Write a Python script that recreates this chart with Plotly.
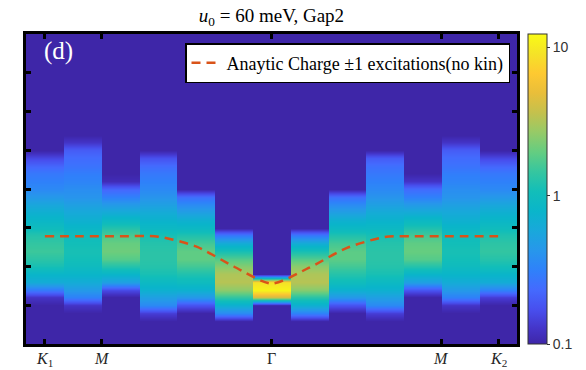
import numpy as np
import plotly.graph_objects as go

# Momentum samples along K1 - M - Gamma - M - K2 (column index)
k_index = list(range(13))
k_tick_pos = [0, 1.5, 6, 10.5, 12]
k_tick_text = ["<i>K</i><sub>1</sub>", "<i>M</i>", "Γ", "<i>M</i>", "<i>K</i><sub>2</sub>"]

# Energy grid of the spectral map (arb. units)
energy = [0.4, 0.6, 0.8, 1.0, 1.2, 1.4, 1.6, 1.8, 2.0, 2.2, 2.4, 2.6, 2.8, 3.0,
          3.2, 3.4, 3.6, 3.8, 4.0, 4.2, 4.4, 4.6, 4.8, 5.0, 5.2, 5.4, 5.6]

# log10 of the spectral weight for each momentum column (bottom -> top in energy)
col_00 = [-1, -1, -1, -1, -0.9, -0.55, -0.2, -0.1, 0.05, 0.12, 0.18, 0.15, 0.1, 0.0,
          -0.08, -0.15, -0.25, -0.35, -0.45, -0.5, -0.55, -0.65, -0.8, -1, -1, -1, -1]
col_01 = [-1, -1, -1, -0.9, -0.5, -0.35, -0.2, -0.1, -0.02, 0.03, 0.05, 0.03, 0.0, -0.08,
          -0.15, -0.22, -0.3, -0.38, -0.42, -0.48, -0.52, -0.58, -0.62, -0.7, -0.9, -1, -1]
col_02 = [-1, -1, -1, -1, -1, -0.8, -0.3, -0.1, 0.1, 0.25, 0.32, 0.3, 0.22, 0.1,
          -0.05, -0.2, -0.35, -0.5, -0.65, -0.95, -1, -1, -1, -1, -1, -1, -1]
col_03 = [-1, -1, -0.85, -0.45, -0.3, -0.15, -0.05, 0.05, 0.1, 0.12, 0.12, 0.1, 0.05, -0.05,
          -0.12, -0.2, -0.3, -0.38, -0.45, -0.5, -0.55, -0.62, -0.75, -1, -1, -1, -1]
col_04 = [-1, -1, -1, -0.75, -0.35, -0.15, -0.02, 0.08, 0.2, 0.28, 0.28, 0.2, 0.08, -0.05,
          -0.15, -0.3, -0.45, -0.6, -1, -1, -1, -1, -1, -1, -1, -1, -1]
col_05 = [-1, -1, -0.45, -0.15, 0.15, 0.4, 0.52, 0.5, 0.38, 0.25, 0.05, -0.2, -0.55, -1,
          -1, -1, -1, -1, -1, -1, -1, -1, -1, -1, -1, -1, -1]
col_06 = [-1, -1, -1, -1, 0.6, 1.05, 0.95, -1, -1, -1, -1, -1, -1, -1,
          -1, -1, -1, -1, -1, -1, -1, -1, -1, -1, -1, -1, -1]
col_07 = [-1, -1, -0.5, -0.15, 0.12, 0.38, 0.52, 0.5, 0.4, 0.25, 0.05, -0.2, -0.55, -1,
          -1, -1, -1, -1, -1, -1, -1, -1, -1, -1, -1, -1, -1]
col_08 = [-1, -1, -1, -0.75, -0.35, -0.15, 0.0, 0.1, 0.2, 0.27, 0.27, 0.2, 0.08, -0.05,
          -0.15, -0.3, -0.45, -0.6, -1, -1, -1, -1, -1, -1, -1, -1, -1]
col_09 = [-1, -1, -0.85, -0.45, -0.3, -0.15, -0.05, 0.05, 0.1, 0.12, 0.12, 0.1, 0.05, -0.05,
          -0.12, -0.2, -0.3, -0.38, -0.45, -0.5, -0.55, -0.6, -0.7, -1, -1, -1, -1]
col_10 = [-1, -1, -1, -1, -1, -0.75, -0.3, -0.1, 0.1, 0.25, 0.3, 0.28, 0.2, 0.08,
          -0.05, -0.2, -0.35, -0.5, -0.62, -0.9, -1, -1, -1, -1, -1, -1, -1]
col_11 = [-1, -1, -1, -0.9, -0.5, -0.35, -0.2, -0.1, -0.02, 0.03, 0.05, 0.03, 0.0, -0.08,
          -0.15, -0.22, -0.3, -0.38, -0.42, -0.48, -0.52, -0.58, -0.62, -0.7, -0.9, -1, -1]
col_12 = [-1, -1, -1, -1, -0.85, -0.5, -0.2, -0.1, 0.03, 0.1, 0.15, 0.13, 0.08, 0.0,
          -0.08, -0.15, -0.25, -0.35, -0.45, -0.5, -0.55, -0.65, -0.8, -1, -1, -1, -1]

# Analytic charge +-1 excitation energy at each momentum
excitation_energy = [2.78, 2.78, 2.78, 2.77, 2.52, 2.0, 1.56, 1.97, 2.48, 2.76, 2.78, 2.78, 2.78]

parula = [
    [0.000, "#3E26A8"], [0.048, "#4434C7"], [0.111, "#484FEE"], [0.175, "#446AFE"],
    [0.238, "#2F81FA"], [0.302, "#2797EB"], [0.365, "#19A8DB"], [0.429, "#0AB5CA"],
    [0.492, "#12BEB9"], [0.556, "#36C69F"], [0.619, "#64CD81"], [0.683, "#96CA67"],
    [0.746, "#C4C14D"], [0.810, "#E9BE3A"], [0.873, "#FEC931"], [0.937, "#F5E327"],
    [1.000, "#F9FB15"],
]

columns = [col_00, col_01, col_02, col_03, col_04, col_05, col_06,
           col_07, col_08, col_09, col_10, col_11, col_12]

# each momentum column is a flat-topped brick: sample it at both of its edges
z = np.repeat(np.array(columns).T, 2, axis=1)
x_edges = np.ravel([[k - 0.49, k + 0.49] for k in k_index])

serif = "Liberation Serif"

fig = go.Figure()
fig.add_trace(go.Heatmap(
    x=x_edges, y=energy, z=z,
    zsmooth="best", zmin=-1, zmax=1.09,
    colorscale=parula, showscale=True,
    hoverinfo="skip", showlegend=False,
    colorbar=dict(
        tickvals=[-1, 0, 1], ticktext=["0.1", "1", "10"],
        thickness=19, thicknessmode="pixels",
        len=310, lenmode="pixels",
        x=(528 - 26) / 491, xanchor="left", xpad=0,
        y=0.5, yanchor="middle", ypad=0,
        outlinecolor="#333333", outlinewidth=1,
        ticks="outside", ticklen=3, tickcolor="#333333",
        tickfont=dict(family="Liberation Sans", size=14, color="#333333"),
    ),
))
fig.add_trace(go.Scatter(
    x=k_index, y=excitation_energy, mode="lines",
    name="Anaytic Charge ±1 excitations(no kin)",
    line=dict(color="#D95319", width=2.5, dash="9px,6px", shape="spline", smoothing=0.7),
    hoverinfo="skip",
))

axis_common = dict(
    showline=True, linewidth=3, linecolor="black", mirror="allticks",
    ticks="inside", ticklen=5, tickwidth=2.5, tickcolor="black",
    showgrid=False, zeroline=False, automargin=False,
)
fig.update_xaxes(range=[-0.5, 12.5], tickvals=k_tick_pos, showticklabels=False,
                 **axis_common)
fig.update_yaxes(range=[0, 8], tickvals=[1, 2, 3, 4, 5, 6, 7], showticklabels=False,
                 **axis_common)

# high-symmetry point labels under the k axis
for pos, label in zip(k_tick_pos, k_tick_text):
    fig.add_annotation(text=label, x=pos, xref="x", y=-0.012, yref="paper",
                       xanchor="center", yanchor="top", showarrow=False,
                       font=dict(family=serif, size=16, color="#262626"))

fig.add_annotation(text="(d)", xref="paper", yref="paper", x=0.033, y=0.945,
                   xanchor="left", yanchor="middle", showarrow=False,
                   font=dict(family=serif, size=25, color="white"))

fig.update_layout(
    width=586, height=370,
    margin=dict(l=26, r=69, t=34, b=26, autoexpand=False),
    font=dict(family=serif),
    paper_bgcolor="white", plot_bgcolor="#3E26A8",
    title=dict(text="<i>u</i><sub>0</sub> = 60 meV, Gap2", x=0.5, xref="paper",
               xanchor="center", y=1 - 15 / 370, yref="container", yanchor="middle",
               font=dict(family=serif, size=19, color="black")),
    showlegend=True,
    legend=dict(x=(510 - 26) / 491, y=(344 - 43) / 310, xanchor="right", yanchor="top",
                bgcolor="white", bordercolor="black", borderwidth=1.5,
                font=dict(family=serif, size=18, color="black"),
                itemwidth=30, tracegroupgap=0),
)

fig.write_html("out.html")
